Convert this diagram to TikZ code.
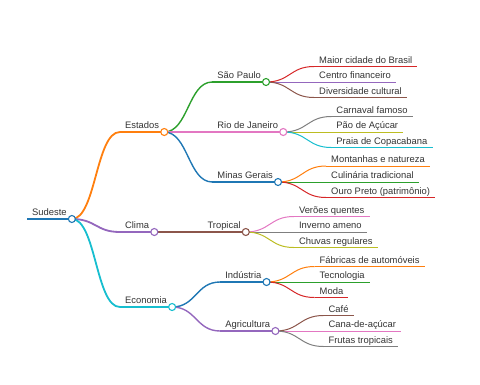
\documentclass[tikz,border=0pt]{standalone}
\usepackage{fontspec}
\setmainfont{Liberation Sans}
\usepackage{xcolor}
\usetikzlibrary{calc}

% markmap palette
\definecolor{mmblue}{HTML}{1F77B4}
\definecolor{mmorange}{HTML}{FF7F0E}
\definecolor{mmgreen}{HTML}{2CA02C}
\definecolor{mmred}{HTML}{D62728}
\definecolor{mmpurple}{HTML}{9467BD}
\definecolor{mmbrown}{HTML}{8C564B}
\definecolor{mmpink}{HTML}{E377C2}
\definecolor{mmgrey}{HTML}{7F7F7F}
\definecolor{mmolive}{HTML}{BCBD22}
\definecolor{mmcyan}{HTML}{17BECF}

\tikzset{
  mapnode/.style={
    anchor=south west, inner xsep=5pt, inner ysep=1pt,
    text height=7pt, text depth=2pt, text=black!80,
    font=\fontsize{9.4pt}{11pt}\selectfont
  },
  mapdot/.style={
    circle, draw, fill=white, inner sep=0pt, minimum size=7pt,
    line width=1.1pt
  },
}

% curved link from a parent's dot to a child's line start
\newcommand{\mmlink}[4]{%
  \draw[#3, line width=#4] let \p1=(#1.south east), \p2=(#2.south west) in
    (\p1) .. controls ({(\x1+\x2)/2},\y1) and ({(\x1+\x2)/2},\y2) .. (\p2);}

\begin{document}
\begin{tikzpicture}[x=1pt, y=-1pt]
  \useasboundingbox (0,0) rectangle (480,384);

  % ---- ROOT AND FIRST LEVEL ----
  \node[mapnode] (sudeste) at (27,219) {Sudeste};
  \node[mapnode] (estados) at ($(sudeste.south east)+(48,-87)$) {Estados};
  \node[mapnode] (clima) at ($(sudeste.south east)+(48,13)$) {Clima};
  \node[mapnode] (economia) at ($(sudeste.south east)+(48,88)$) {Economia};

  % ---- ESTADOS ----
  \node[mapnode] (sp) at ($(estados.south east)+(48,-50)$) {São Paulo};
  \node[mapnode] (rj) at ($(estados.south east)+(48,0)$) {Rio de Janeiro};
  \node[mapnode] (mg) at ($(estados.south east)+(48,50)$) {Minas Gerais};

  \node[mapnode] (sp1) at ($(sp.south east)+(48,-15.5)$) {Maior cidade do Brasil};
  \node[mapnode] (sp2) at ($(sp.south east)+(48,0)$) {Centro financeiro};
  \node[mapnode] (sp3) at ($(sp.south east)+(48,15.5)$) {Diversidade cultural};

  \node[mapnode] (rj1) at ($(rj.south east)+(48,-15.5)$) {Carnaval famoso};
  \node[mapnode] (rj2) at ($(rj.south east)+(48,0)$) {Pão de Açúcar};
  \node[mapnode] (rj3) at ($(rj.south east)+(48,15.5)$) {Praia de Copacabana};

  \node[mapnode] (mg1) at ($(mg.south east)+(48,-16)$) {Montanhas e natureza};
  \node[mapnode] (mg2) at ($(mg.south east)+(48,0)$) {Culinária tradicional};
  \node[mapnode] (mg3) at ($(mg.south east)+(48,15.5)$) {Ouro Preto (patrimônio)};

  % ---- CLIMA ----
  \node[mapnode] (tropical) at ($(clima.south east)+(48,0)$) {Tropical};
  \node[mapnode] (tr1) at ($(tropical.south east)+(48,-15.5)$) {Verões quentes};
  \node[mapnode] (tr2) at ($(tropical.south east)+(48,0)$) {Inverno ameno};
  \node[mapnode] (tr3) at ($(tropical.south east)+(48,15.5)$) {Chuvas regulares};

  % ---- ECONOMIA ----
  \node[mapnode] (industria) at ($(economia.south east)+(48,-25)$) {Indústria};
  \node[mapnode] (agricultura) at ($(economia.south east)+(48,24)$) {Agricultura};

  \node[mapnode] (in1) at ($(industria.south east)+(48,-15.5)$) {Fábricas de automóveis};
  \node[mapnode] (in2) at ($(industria.south east)+(48,0)$) {Tecnologia};
  \node[mapnode] (in3) at ($(industria.south east)+(48,15.5)$) {Moda};

  \node[mapnode] (ag1) at ($(agricultura.south east)+(48,-15.5)$) {Café};
  \node[mapnode] (ag2) at ($(agricultura.south east)+(48,0)$) {Cana-de-açúcar};
  \node[mapnode] (ag3) at ($(agricultura.south east)+(48,15.5)$) {Frutas tropicais};

  % underlines
  \foreach \n/\c/\w in {
    sudeste/mmblue/2pt,
    estados/mmorange/1.8pt, clima/mmpurple/1.8pt, economia/mmcyan/1.8pt,
    sp/mmgreen/1.4pt, rj/mmpink/1.4pt, mg/mmblue/1.4pt,
    tropical/mmbrown/1.4pt, industria/mmblue/1.4pt, agricultura/mmpurple/1.4pt,
    sp1/mmred/1pt, sp2/mmpurple/1pt, sp3/mmbrown/1pt,
    rj1/mmgrey/1pt, rj2/mmolive/1pt, rj3/mmcyan/1pt,
    mg1/mmorange/1pt, mg2/mmgreen/1pt, mg3/mmred/1pt,
    tr1/mmpink/1pt, tr2/mmgrey/1pt, tr3/mmolive/1pt,
    in1/mmorange/1pt, in2/mmgreen/1pt, in3/mmred/1pt,
    ag1/mmbrown/1pt, ag2/mmpink/1pt, ag3/mmgrey/1pt}
    \draw[\c, line width=\w] (\n.south west) -- (\n.south east);

  % links
  \mmlink{sudeste}{estados}{mmorange}{1.8pt}
  \mmlink{sudeste}{clima}{mmpurple}{1.8pt}
  \mmlink{sudeste}{economia}{mmcyan}{1.8pt}
  \mmlink{estados}{sp}{mmgreen}{1.4pt}
  \mmlink{estados}{rj}{mmpink}{1.4pt}
  \mmlink{estados}{mg}{mmblue}{1.4pt}
  \mmlink{clima}{tropical}{mmbrown}{1.4pt}
  \mmlink{economia}{industria}{mmblue}{1.4pt}
  \mmlink{economia}{agricultura}{mmpurple}{1.4pt}
  \foreach \q/\ka/\kb/\kc/\ca/\cb/\cc in {
    sp/sp1/sp2/sp3/mmred/mmpurple/mmbrown,
    rj/rj1/rj2/rj3/mmgrey/mmolive/mmcyan,
    mg/mg1/mg2/mg3/mmorange/mmgreen/mmred,
    tropical/tr1/tr2/tr3/mmpink/mmgrey/mmolive,
    industria/in1/in2/in3/mmorange/mmgreen/mmred,
    agricultura/ag1/ag2/ag3/mmbrown/mmpink/mmgrey} {
    \mmlink{\q}{\ka}{\ca}{1pt}
    \mmlink{\q}{\kb}{\cb}{1pt}
    \mmlink{\q}{\kc}{\cc}{1pt}
  }

  % dots on branching nodes
  \foreach \n/\c in {sudeste/mmblue, estados/mmorange, clima/mmpurple,
    economia/mmcyan, sp/mmgreen, rj/mmpink, mg/mmblue, tropical/mmbrown,
    industria/mmblue, agricultura/mmpurple}
    \node[mapdot, draw=\c] (\n dot) at (\n.south east) {};
\end{tikzpicture}
\end{document}
